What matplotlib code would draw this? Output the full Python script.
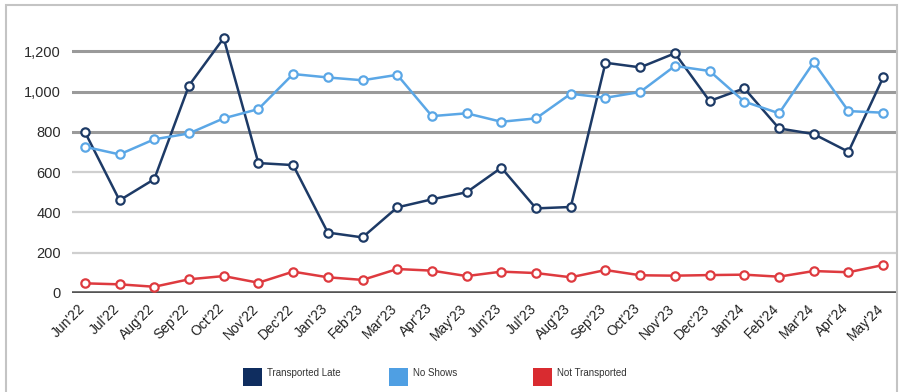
import matplotlib
matplotlib.use("Agg")
import matplotlib.pyplot as plt
from matplotlib.patches import Rectangle
from matplotlib.transforms import ScaledTranslation

months = ["Jun'22", "Jul'22", "Aug'22", "Sep'22", "Oct'22", "Nov'22", "Dec'22",
          "Jan'23", "Feb'23", "Mar'23", "Apr'23", "May'23", "Jun'23", "Jul'23",
          "Aug'23", "Sep'23", "Oct'23", "Nov'23", "Dec'23", "Jan'24", "Feb'24",
          "Mar'24", "Apr'24", "May'24"]

transported_late = [800, 460, 565, 1030, 1265, 645, 635, 300, 276, 425, 465, 500,
                    622, 420, 427, 1143, 1120, 1190, 953, 1016, 817, 789, 701, 1070]
no_shows = [726, 688, 763, 792, 867, 913, 1087, 1070, 1056, 1083, 878, 892,
            850, 867, 989, 969, 998, 1127, 1102, 950, 892, 1145, 903, 895]
not_transported = [48, 43, 31, 68, 84, 51, 106, 78, 65, 119, 111, 84,
                   106, 99, 78, 114, 88, 86, 89, 91, 81, 109, 103, 139]

series_names = ["Transported Late", "No Shows", "Not Transported"]
series_colors = ["#1d3a66", "#5ba7e6", "#de3a3f"]
legend_colors = ["#0f2d5f", "#4f9fe3", "#d92b30"]

y_ticks = [0, 200, 400, 600, 800, 1000, 1200]
y_labels = ["0", "200", "400", "600", "800", "1,000", "1,200"]

plt.rcParams["font.family"] = ["Liberation Sans", "DejaVu Sans"]

W, H = 901, 392
fig = plt.figure(figsize=(W / 100, H / 100), dpi=100)
ax = fig.add_axes([72 / W, 99 / H, (896 - 72) / W, (293 - 15) / H])

ax.set_xlim(-0.37, len(months) - 1 + 0.37)
ax.set_ylim(0, 1380)

for v in y_ticks[1:]:
    if v >= 800:
        ax.axhline(v, color="#9a9a9a", lw=2.2, zorder=1)
    else:
        ax.axhline(v, color="#cfcfcf", lw=1.6, zorder=1)
ax.axhline(0, color="#555555", lw=2.6, zorder=1)

x = list(range(len(months)))
for vals, col in zip([transported_late, no_shows, not_transported], series_colors):
    ax.plot(x, vals, color=col, lw=1.8, marker="o", markersize=6,
            markerfacecolor="white", markeredgecolor=col, markeredgewidth=1.6,
            zorder=3, solid_joinstyle="round")

for s in ax.spines.values():
    s.set_visible(False)

ax.set_yticks(y_ticks)
ax.set_yticklabels(y_labels, fontsize=10.5, color="#2b2b2b")
ax.set_xticks(x)
ax.set_xticklabels(months, fontsize=10, color="#222222", rotation=45,
                   ha="right", va="top", rotation_mode="anchor")
ax.tick_params(axis="both", length=0)
ax.tick_params(axis="y", pad=8)
ax.tick_params(axis="x", pad=6)

# nudge the slanted month labels so their right tips sit under the points
shift = ScaledTranslation(-7 / 100, 0, fig.dpi_scale_trans)
for lbl in ax.get_xticklabels():
    lbl.set_transform(lbl.get_transform() + shift)

# legend row beneath the axis labels
legend_x = [243, 389, 533]
for lx, name, col in zip(legend_x, series_names, legend_colors):
    fig.add_artist(Rectangle((lx / W, (H - 386) / H), 19 / W, 18 / H,
                             transform=fig.transFigure, facecolor=col,
                             edgecolor="none"))
    fig.text((lx + 24) / W, (H - 373) / H, name, fontsize=7, color="#333333",
             ha="left", va="center")

# outer frame
fig.add_artist(Rectangle((6 / W, -0.02), (897 - 6) / W, (H - 5) / H + 0.02,
                         transform=fig.transFigure, facecolor="none",
                         edgecolor="#c4c4c4", lw=1.5))

fig.savefig("out.png", dpi=100)
